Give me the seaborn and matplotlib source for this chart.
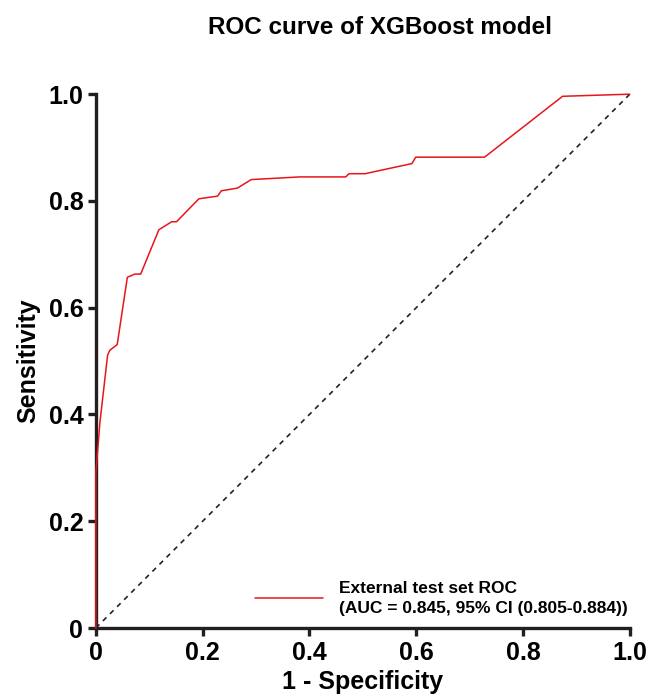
import pandas as pd
import matplotlib.pyplot as plt
import seaborn as sns

# ROC points
fpr = [0.0, 0.0, 0.0075, 0.022, 0.026, 0.04, 0.059, 0.073, 0.084, 0.118, 0.142, 0.151,
       0.193, 0.228, 0.235, 0.265, 0.291, 0.382, 0.468, 0.474, 0.504, 0.592, 0.599,
       0.728, 0.874, 1.0]
tpr = [0.0, 0.29, 0.384, 0.511, 0.52, 0.531, 0.657, 0.663, 0.663, 0.746, 0.761, 0.761,
       0.804, 0.809, 0.819, 0.824, 0.840, 0.845, 0.845, 0.851, 0.851, 0.870, 0.882,
       0.882, 0.996, 1.0]
chance = [0.0, 1.0]
ticks = [0.0, 0.2, 0.4, 0.6, 0.8, 1.0]
tick_labels = ["0", "0.2", "0.4", "0.6", "0.8", "1.0"]
curve_label = "External test set ROC\n(AUC = 0.845, 95% CI (0.805-0.884))"

sns.set_theme(style="ticks")
plt.rcParams['font.family'] = ['Liberation Sans', 'DejaVu Sans']
plt.rcParams['font.weight'] = 'bold'
plt.rcParams['text.color'] = 'black'
plt.rcParams['axes.labelcolor'] = 'black'
plt.rcParams['xtick.labelcolor'] = 'black'
plt.rcParams['ytick.labelcolor'] = 'black'

df = pd.DataFrame({"fpr": fpr, "tpr": tpr})

fig = plt.figure(figsize=(6.52, 6.96), dpi=100)
ax = fig.add_axes([0.147, 0.0977, 0.819, 0.767])

ax.plot(chance, chance, linestyle=(0, (3, 3)), color="#222222", linewidth=1.2)
sns.lineplot(data=df, x="fpr", y="tpr", sort=False, estimator=None, color="#e8151b",
             linewidth=1.1, label=curve_label, ax=ax, clip_on=False, zorder=5)

ax.set_xlim(0, 1)
ax.set_ylim(0, 1)
ax.set_xticks(ticks)
ax.set_yticks(ticks)
ax.set_xticklabels(tick_labels, fontsize=18, fontweight="bold")
ax.set_yticklabels(tick_labels, fontsize=18, fontweight="bold")
ax.set_xlabel("1 - Specificity", fontsize=18, fontweight="bold", labelpad=4)
ax.set_ylabel("Sensitivity", fontsize=18, fontweight="bold", labelpad=6)

sns.despine(ax=ax)
for side in ["left", "bottom"]:
    ax.spines[side].set_linewidth(2.4)
    ax.spines[side].set_color("#231f20")
ax.tick_params(width=2.4, length=6, color="#231f20", labelcolor="black", pad=3)

leg = ax.legend(loc="lower right", frameon=False, fontsize=12.5, handlelength=3.9,
                handletextpad=0.9, borderaxespad=0.1, bbox_to_anchor=(1.012, 0.006))
for t in leg.get_texts():
    t.set_fontweight("bold")
    t.set_linespacing(1.45)

fig.text(380 / 652, 1 - 27 / 696, "ROC curve of XGBoost model", ha="center", va="center",
         fontsize=17.5, fontweight="bold")

fig.savefig("out.png", dpi=100)
